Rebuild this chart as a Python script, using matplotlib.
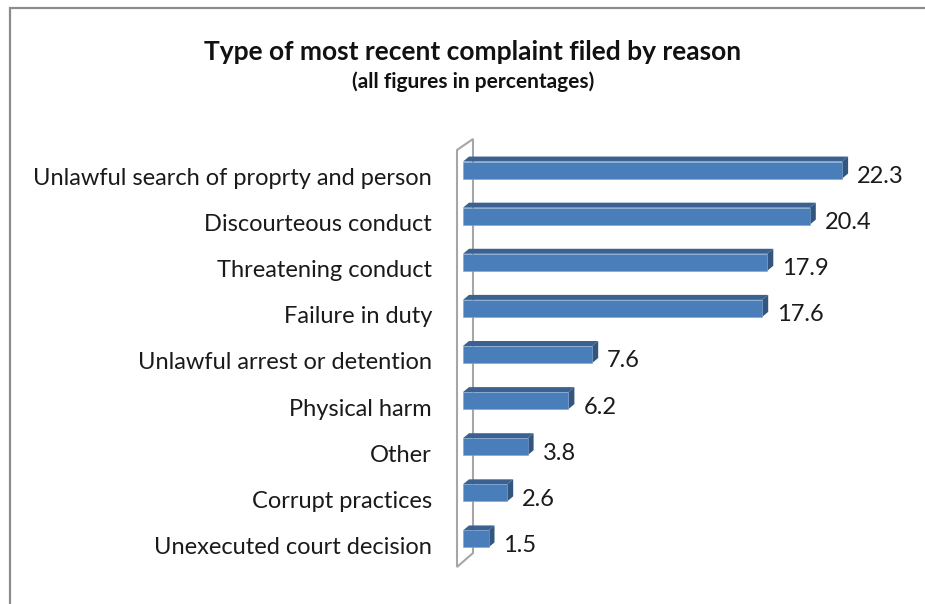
import matplotlib
matplotlib.use("Agg")
import matplotlib.pyplot as plt
from matplotlib.patches import Polygon, Rectangle

reasons = ["Unlawful search of proprty and person", "Discourteous conduct",
           "Threatening conduct", "Failure in duty", "Unlawful arrest or detention",
           "Physical harm", "Other", "Corrupt practices", "Unexecuted court decision"]
shares = [22.3, 20.4, 17.9, 17.6, 7.6, 6.2, 3.8, 2.6, 1.5]

W, H = 925, 604
plt.rcParams["font.family"] = ["Lato", "DejaVu Sans"]

fig = plt.figure(figsize=(W / 100, H / 100), dpi=100)
# chart frame (right and bottom run off the canvas)
fig.patches.append(Rectangle((10 / W, -0.1), 1.2, (H - 8) / H + 0.1, transform=fig.transFigure,
                             fill=False, edgecolor="#8c8c8c", linewidth=1.6))

ax = fig.add_axes([463 / W, (H - 562) / H, 442 / W, 415 / H])
ax.set_xlim(0, 26)
ax.set_ylim(len(reasons) - 0.5, -0.5)
ax.axis("off")

# pixel -> data conversions for the 3d offsets
px_x = 26 / 442
px_y = len(reasons) / 415
dx, dy = 6 * px_x, 5 * px_y
h = 17 * px_y

front, top, side = "#4a7ebb", "#3b6190", "#33567f"
for i, (name, v) in enumerate(zip(reasons, shares)):
    y0, y1 = i + h / 2, i - h / 2
    ax.add_patch(Polygon([(0, y1), (v, y1), (v + dx, y1 - dy), (dx, y1 - dy)],
                         closed=True, facecolor=top, edgecolor="none"))
    ax.add_patch(Polygon([(v, y1), (v, y0), (v + dx, y0 - dy), (v + dx, y1 - dy)],
                         closed=True, facecolor=side, edgecolor="none"))
    ax.barh(i, v, height=h, color=front, edgecolor="#7fa3cf", linewidth=0.4)
    ax.text(v + 15 * px_x, i + 13 * px_y, f"{v:.1f}", va="baseline", ha="left",
            fontsize=17, color="#1a1a1a")
    ax.text(-31 * px_x, i + 15 * px_y, name, va="baseline", ha="right",
            fontsize=17, color="#1a1a1a", clip_on=False)

# back wall of the category axis
wall_x0, wall_x1 = -6 * px_x, 10 * px_x
wall = Polygon([(wall_x0, -0.5 + 3 * px_y), (wall_x1, -0.5 - 8 * px_y),
                (wall_x1, 8.5 - 9 * px_y), (wall_x0, 8.5 + 5 * px_y)],
               closed=True, fill=False, edgecolor="#a6a6a6", linewidth=1.5, clip_on=False,
               zorder=0)
ax.add_patch(wall)

fig.text(473 / W, 1 - 52 / H, "Type of most recent complaint filed by reason",
         ha="center", va="center", fontsize=19, fontweight="bold", color="#111111")
fig.text(473 / W, 1 - 82 / H, "(all figures in percentages)",
         ha="center", va="center", fontsize=15, fontweight="bold", color="#111111")

fig.savefig("out.png", dpi=100)
